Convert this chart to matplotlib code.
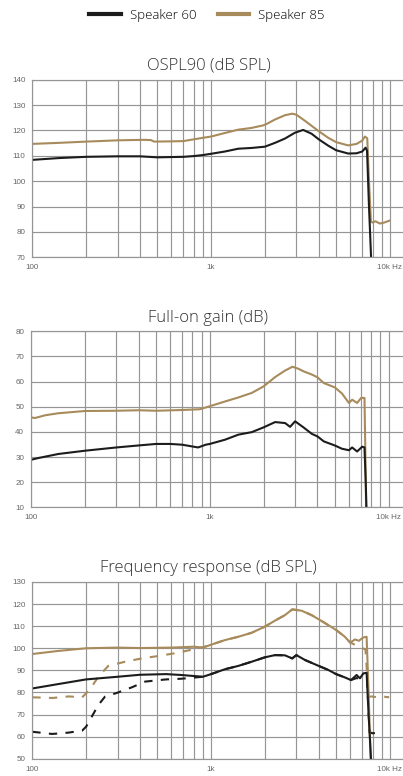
import matplotlib
matplotlib.use("Agg")
import matplotlib.pyplot as plt
from matplotlib.ticker import FixedLocator, NullFormatter

# colours
BLACK = "#1c1c1c"
GOLD = "#a88b5c"
GRID = "#959595"

# --- OSPL90 (dB SPL) ---
ospl_f_85 = [100, 140, 200, 300, 350, 420, 460, 480, 600, 700, 800, 900, 1000,
             1195, 1418, 1685, 1957, 2050, 2275, 2588, 2843, 3000, 3348, 4000,
             4519, 5000, 5845, 6513, 7000, 7250, 7470, 7630, 7830, 8000, 8300,
             8790, 9300, 9910]
ospl_v_85 = [114.7, 115.1, 115.6, 116.1, 116.2, 116.3, 116.2, 115.6, 115.7,
             115.8, 116.5, 117.1, 117.6, 119.0, 120.3, 121.0, 122.0, 122.6,
             124.3, 126.0, 126.6, 126.2, 123.8, 119.7, 117.1, 115.4, 114.1,
             114.7, 116.0, 117.6, 116.9, 101.0, 84.0, 83.7, 84.2, 83.3, 83.7, 84.4]
ospl_f_60 = [100, 140, 200, 300, 400, 500, 700, 800, 900, 1000, 1195, 1418,
             1685, 2000, 2275, 2588, 2944, 3274, 3648, 4000, 4519, 5000, 5845,
             6513, 7000, 7310, 7450, 7630, 7900]
ospl_v_60 = [108.4, 109.1, 109.6, 109.8, 109.8, 109.4, 109.6, 109.9, 110.3,
             110.8, 111.7, 112.8, 113.1, 113.6, 115.1, 116.8, 119.1, 120.2,
             118.7, 116.5, 114.0, 112.2, 110.9, 111.0, 111.7, 113.2, 112.0,
             91.0, 65.0]

# --- Full-on gain (dB) ---
gain_f_85 = [100, 105, 120, 142, 200, 300, 400, 500, 700, 880, 1000, 1218,
             1446, 1718, 2000, 2320, 2638, 2899, 3131, 3340, 3723, 4000, 4345,
             5000, 5480, 6000, 6250, 6668, 7020, 7330, 7420, 7500]
gain_v_85 = [45.8, 45.5, 46.6, 47.4, 48.3, 48.4, 48.6, 48.4, 48.7, 49.0, 50.2,
             52.1, 53.7, 55.5, 58.1, 61.8, 64.4, 65.9, 65.1, 64.1, 62.8, 61.7,
             59.4, 57.7, 55.3, 51.5, 52.8, 51.5, 53.5, 53.5, 30.0, 5.0]
gain_f_60 = [100, 110, 142, 200, 300, 400, 500, 600, 700, 860, 950, 1000,
             1218, 1446, 1718, 2000, 2320, 2638, 2812, 3000, 3340, 3723, 4000,
             4345, 5000, 5480, 6000, 6250, 6668, 7120, 7330, 7450, 7550]
gain_v_60 = [28.9, 29.6, 31.2, 32.5, 33.8, 34.6, 35.2, 35.2, 34.9, 33.8, 34.9,
             35.2, 36.9, 38.9, 39.9, 41.8, 43.9, 43.5, 42.0, 44.2, 41.8, 39.2,
             38.2, 36.2, 34.6, 33.3, 32.7, 33.8, 32.2, 34.1, 33.8, 20.0, 5.0]

# --- Frequency response (dB SPL) ---
fr_f_85 = [100, 140, 200, 300, 400, 600, 800, 900, 1000, 1195, 1418, 1685,
           2000, 2275, 2588, 2843, 3208, 3648, 4000, 4519, 5000, 5600, 6000,
           6370, 6710, 7100, 7410, 7600, 7830]
fr_v_85 = [97.4, 98.8, 100.0, 100.3, 100.1, 100.3, 100.7, 100.3, 101.6, 103.7,
           105.2, 107.0, 109.8, 112.5, 115.0, 117.6, 117.0, 115.0, 113.1, 110.5,
           108.3, 105.2, 102.5, 104.0, 103.4, 104.9, 105.2, 80.0, 45.0]
fr_f_85_dash = [100, 130, 160, 190, 200, 215, 234, 266, 330, 409, 507, 655,
                813, 900, 1000, 1195, 1418, 1685, 2000, 2275, 2588, 2843, 3208,
                3648, 4000, 4519, 5000, 5600, 6000, 6400, 6800, 7300, 7600,
                7900, 8500, 9200, 9900]
fr_v_85_dash = [77.8, 77.5, 78.2, 77.8, 79.6, 82.6, 87.1, 92.0, 93.9, 95.4,
                96.5, 98.0, 99.7, 100.5, 101.6, 103.7, 105.2, 107.0, 109.8,
                112.5, 115.0, 117.6, 117.0, 115.0, 113.1, 110.5, 108.3, 105.2,
                102.6, 101.5, 100.4, 99.5, 78.0, 78.2, 77.8, 78.1, 77.8]
fr_f_60 = [100, 140, 200, 300, 400, 560, 680, 900, 1000, 1195, 1418, 1685,
           2000, 2275, 2588, 2843, 3000, 3348, 4000, 4519, 5000, 5600, 6060,
           6513, 6800, 7100, 7410, 7600, 7900]
fr_v_60 = [81.8, 83.8, 85.9, 87.1, 88.0, 88.3, 87.9, 87.1, 88.3, 90.5, 92.0,
           93.9, 95.9, 96.9, 96.8, 95.4, 96.9, 94.7, 92.0, 90.2, 88.3, 86.8,
           85.6, 87.9, 86.4, 88.6, 88.9, 70.0, 45.0]
fr_f_60_dash = [100, 129, 159, 190, 200, 215, 234, 255, 300, 360, 427, 560,
                680, 900, 1000, 1195, 1418, 1685, 2000, 2275, 2588, 2843, 3000,
                3348, 4000, 4519, 5000, 5600, 6060, 6500, 7000, 7450, 7700,
                8000, 8560, 9100]
fr_v_60_dash = [62.2, 61.2, 61.8, 62.7, 64.5, 69.0, 74.3, 78.1, 79.9, 82.3,
                84.9, 85.9, 86.2, 87.1, 88.3, 90.5, 92.0, 93.9, 95.9, 96.9,
                96.8, 95.4, 96.9, 94.7, 92.0, 90.2, 88.3, 86.8, 85.6, 86.5,
                86.0, 85.5, 62.0, 61.5, 61.8, 61.2]

titles = ["OSPL90 (dB SPL)", "Full-on gain (dB)", "Frequency response (dB SPL)"]
ylims = [(70, 140), (10, 80), (50, 130)]
xtick_vals = [100, 1000, 10000]
xtick_labels = ["100", "1k", "10k Hz"]
minor_vals = [200, 300, 400, 500, 600, 700, 800, 900,
              2000, 3000, 4000, 5000, 6000, 7000, 8000, 9000]

W, H = 403, 776
fig = plt.figure(figsize=(W / 100, H / 100), dpi=100)

# pixel boxes: left, top, bottom
boxes = [(32.3, 79.7, 257.3), (31.0, 331.3, 507.3), (32.3, 582.0, 758.7)]
decade_px = 178.8


def make_axes(left, top, bottom):
    ax = fig.add_axes([left / W, 1 - bottom / H, (W - left) / W, (bottom - top) / H])
    ax.set_xscale("log")
    ax.set_xlim(100, 100 * 10 ** ((W - left) / decade_px))
    return ax


axes = [make_axes(*b) for b in boxes]

for ax, title, ylim in zip(axes, titles, ylims):
    ax.set_ylim(*ylim)
    ax.set_yticks(range(ylim[0], ylim[1] + 1, 10))
    ax.xaxis.set_major_locator(FixedLocator(xtick_vals))
    ax.xaxis.set_minor_locator(FixedLocator(minor_vals))
    ax.xaxis.set_minor_formatter(NullFormatter())
    ax.set_xticklabels(xtick_labels)
    ax.grid(True, which="both", color=GRID, linewidth=0.85)
    ax.tick_params(which="both", length=0, labelsize=5.8, labelcolor="#666666",
                   pad=5)
    for lab in ax.get_xticklabels() + ax.get_yticklabels():
        lab.set_family("Liberation Sans")
    for side in ["left", "top", "bottom"]:
        ax.spines[side].set_color(GRID)
        ax.spines[side].set_linewidth(0.85)
    ax.spines["right"].set_visible(False)
    ax.set_axisbelow(True)
    ax.set_title(title, x=0.476, pad=7, fontsize=12, color="#333333",
                 family="Open Sans", fontweight="light")

lw = 1.5
axes[0].plot(ospl_f_85, ospl_v_85, color=GOLD, lw=lw)
axes[0].plot(ospl_f_60, ospl_v_60, color=BLACK, lw=lw)

axes[1].plot(gain_f_85, gain_v_85, color=GOLD, lw=lw)
axes[1].plot(gain_f_60, gain_v_60, color=BLACK, lw=lw)

axes[2].plot(fr_f_85_dash, fr_v_85_dash, color=GOLD, lw=lw, ls=(0, (4, 4)))
axes[2].plot(fr_f_60_dash, fr_v_60_dash, color=BLACK, lw=lw, ls=(0, (4, 4)))
axes[2].plot(fr_f_85, fr_v_85, color=GOLD, lw=lw)
axes[2].plot(fr_f_60, fr_v_60, color=BLACK, lw=lw)

h60, = axes[0].plot([], [], color=BLACK, lw=3)
h85, = axes[0].plot([], [], color=GOLD, lw=3)
fig.legend([h60, h85], ["Speaker 60", "Speaker 85"], loc="center",
           bbox_to_anchor=(207 / W, 1 - 15 / H), ncol=2, frameon=False,
           handlelength=2.4, columnspacing=1.6, handletextpad=0.7,
           prop={"family": "Open Sans", "size": 9.5, "weight": "light"})

fig.savefig("out.png", dpi=100)
